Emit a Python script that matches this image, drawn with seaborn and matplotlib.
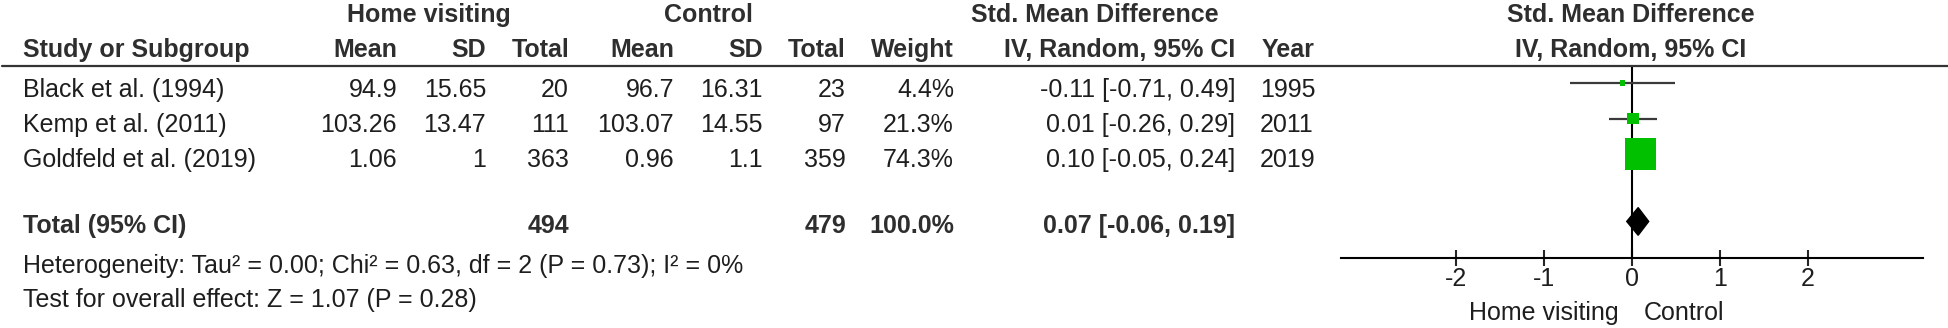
import pandas as pd
import seaborn as sns
import matplotlib.pyplot as plt
from matplotlib.lines import Line2D

# Study data
studies = ["Black et al. (1994)", "Kemp et al. (2011)", "Goldfeld et al. (2019)"]
hv_mean = [94.9, 103.26, 1.06]
hv_sd = [15.65, 13.47, 1]
hv_n = [20, 111, 363]
ctrl_mean = [96.7, 103.07, 0.96]
ctrl_sd = [16.31, 14.55, 1.1]
ctrl_n = [23, 97, 359]
weight = [4.4, 21.3, 74.3]
smd = [-0.11, 0.01, 0.10]
ci_low = [-0.71, -0.26, -0.05]
ci_high = [0.49, 0.29, 0.24]
years = [1995, 2011, 2019]

pooled_smd = 0.07
pooled_low = -0.06
pooled_high = 0.19
heterogeneity = "Heterogeneity: Tau\u00b2 = 0.00; Chi\u00b2 = 0.63, df = 2 (P = 0.73); I\u00b2 = 0%"
overall_effect = "Test for overall effect: Z = 1.07 (P = 0.28)"
ticks = [-2, -1, 0, 1, 2]

sns.set_style("white")
plt.rcParams["font.family"] = ["Liberation Sans", "DejaVu Sans"]
plt.rcParams["axes.unicode_minus"] = False

W, H = 1948, 328
fig = plt.figure(figsize=(W / 100, H / 100), dpi=100)
fs = 18
txt_col = "#1e1e1e"
head_col = "#2e2e2e"


def put(x, y, s, ha="left", bold=False):
    # x, y in pixels from the top-left corner, y is the text baseline
    fig.text(x / W, 1 - y / H, s, ha=ha, va="baseline", fontsize=fs,
             fontweight="bold" if bold else "normal",
             color=head_col if bold else txt_col)


# header
put(429, 22, "Home visiting", ha="center", bold=True)
put(708, 22, "Control", ha="center", bold=True)
put(1095, 22, "Std. Mean Difference", ha="center", bold=True)
put(1631, 22, "Std. Mean Difference", ha="center", bold=True)
put(23, 57, "Study or Subgroup", bold=True)
for x, s in [(397, "Mean"), (486, "SD"), (569, "Total"), (674, "Mean"),
             (763, "SD"), (846, "Total"), (954, "Weight"),
             (1235, "IV, Random, 95% CI")]:
    put(x, 57, s, ha="right", bold=True)
put(1262, 57, "Year", bold=True)
put(1631, 57, "IV, Random, 95% CI", ha="center", bold=True)

fig.add_artist(Line2D([2 / W, 1], [1 - 66 / H] * 2, color="#333333", lw=1.6))

# study rows
for i, name in enumerate(studies):
    y = 97 + 35 * i
    put(23, y, name)
    put(397, y, f"{hv_mean[i]:g}", ha="right")
    put(486, y, f"{hv_sd[i]:g}", ha="right")
    put(569, y, f"{hv_n[i]}", ha="right")
    put(674, y, f"{ctrl_mean[i]:g}", ha="right")
    put(763, y, f"{ctrl_sd[i]:g}", ha="right")
    put(846, y, f"{ctrl_n[i]}", ha="right")
    put(954, y, f"{weight[i]:.1f}%", ha="right")
    put(1235, y, f"{smd[i]:.2f} [{ci_low[i]:.2f}, {ci_high[i]:.2f}]", ha="right")
    put(1260, y, f"{years[i]}")

# total row
put(23, 233, "Total (95% CI)", bold=True)
put(569, 233, f"{sum(hv_n)}", ha="right", bold=True)
put(846, 233, f"{sum(ctrl_n)}", ha="right", bold=True)
put(954, 233, f"{sum(weight):.1f}%", ha="right", bold=True)
put(1235, 233, f"{pooled_smd:.2f} [{pooled_low:.2f}, {pooled_high:.2f}]", ha="right", bold=True)
put(23, 273, heterogeneity)
put(23, 307, overall_effect)

# forest plot panel
ax = fig.add_axes([1341 / W, (H - 258) / H, (1923 - 1341) / W, (258 - 66) / H])
rows = list(range(len(studies)))
total_row = 3.9
df = pd.DataFrame({"smd": smd, "row": rows, "weight": weight})

ax.hlines(rows, ci_low, ci_high, color="#3a3a3a", lw=1.6, zorder=2)
side_pt = {w: (4 + 0.365 * w) * 0.72 for w in weight}
sns.scatterplot(data=df, x="smd", y="row", size="weight",
                sizes={w: s ** 2 for w, s in side_pt.items()},
                marker="s", color="#00c000", linewidth=0, legend=False,
                zorder=3, ax=ax)
ax.axvline(0, color="black", lw=1.5, zorder=1)
h = 0.39
ax.fill([pooled_low, pooled_smd, pooled_high, pooled_smd],
        [total_row, total_row - h, total_row, total_row + h],
        color="black", zorder=4)

ax.set_xlim(-3.31, 3.31)
ax.set_ylim(4.93, -0.48)
ax.set_xticks(ticks)
ax.set_xticklabels([str(t) for t in ticks])
ax.set_yticks([])
ax.set_xlabel("")
ax.set_ylabel("")
for side in ["top", "left", "right"]:
    ax.spines[side].set_visible(False)
ax.spines["bottom"].set_linewidth(1.5)
ax.spines["bottom"].set_color("black")
ax.tick_params(axis="x", direction="inout", length=11, width=1.5,
               pad=1, labelsize=fs, labelcolor=txt_col, bottom=True)
ax.patch.set_alpha(0)

put(1619, 320, "Home visiting", ha="right")
put(1644, 320, "Control")

fig.savefig("out.png", dpi=100)
